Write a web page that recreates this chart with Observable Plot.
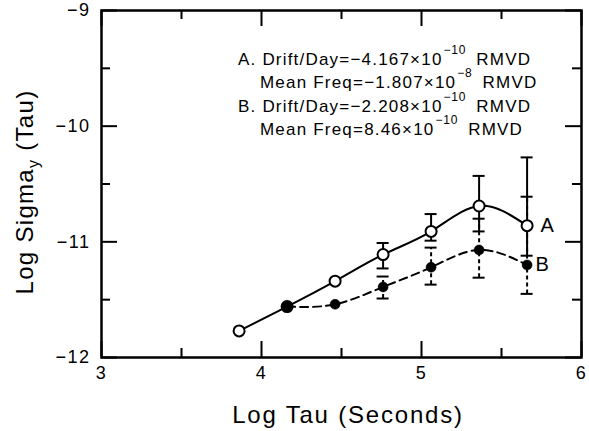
<!DOCTYPE html>
<html><head><meta charset="utf-8">
<script src="https://cdn.jsdelivr.net/npm/d3@7"></script>
<script src="https://cdn.jsdelivr.net/npm/@observablehq/plot@0.6"></script>
<style>
body{margin:0;background:#fff;}
#chart svg{display:block}
#chart svg [aria-label$="tick label"] text{letter-spacing:1.5px}
</style></head><body><div id="chart"></div>
<script>
// ---- data ----
const logTauA = [3.86, 4.16, 4.46, 4.76, 5.06, 5.36, 5.66];
const sigmaA  = [-11.77, -11.56, -11.34, -11.11, -10.91, -10.69, -10.86];
const logTauB = [4.16, 4.46, 4.76, 5.06, 5.36, 5.66];
const sigmaB  = [-11.56, -11.54, -11.39, -11.22, -11.07, -11.20];
const errTauA = [4.76, 5.06, 5.36, 5.66];
const errHiA  = [-11.01, -10.76, -10.43, -10.27];
const errLoA  = [-11.23, -10.99, -10.91, -11.12];
const errTauB = [4.76, 5.06, 5.36, 5.66];
const errHiB  = [-11.30, -11.05, -10.80, -10.61];
const errLoB  = [-11.49, -11.37, -11.31, -11.45];
const xMajor = [3, 4, 5, 6];
const xMinor = [3.5, 4.5, 5.5];
const yMajor = [-9, -10, -11, -12];
const yMinor = [-9.5, -10.5, -11.5];
const seriesNames = ["A", "B"];
const annotLabel    = ["A. Drift/Day", "Mean Freq", "B. Drift/Day", "Mean Freq"];
const annotMantissa = ["\u22124.167", "\u22121.807", "\u22122.208", "8.46"];
const annotExponent = ["\u221210", "\u22128", "\u221210", "\u221210"];
const annotUnit = "RMVD";
const xTitle = "Log Tau (Seconds)";
const yTitleMain = "Log Sigma", yTitleSub = "y", yTitleEnd = " (Tau)";

// ---- tables ----
const dataA = logTauA.map((t, i) => ({t, v: sigmaA[i]}));
const dataB = logTauB.map((t, i) => ({t, v: sigmaB[i]}));
const barsA = errTauA.map((t, i) => ({t, hi: errHiA[i], lo: errLoA[i]}));
const barsB = errTauB.map((t, i) => ({t, hi: errHiB[i], lo: errLoB[i]}));

const FONT = "'Liberation Sans', Arial, Helvetica, sans-serif";
const MAJ = 16, MIN = 9;
const intFmt = d3.format("d");

const tickMarks = (vals, len) => [
  Plot.ruleX(vals, {x: d => d, y1: -12, y2: -12, insetTop: -len, stroke: "black", strokeWidth: 2}),
  Plot.ruleX(vals, {x: d => d, y1: -9, y2: -9, insetBottom: -len, stroke: "black", strokeWidth: 2})
];
const tickMarksY = (vals, len) => [
  Plot.ruleY(vals, {y: d => d, x1: 3, x2: 3, insetRight: -len, stroke: "black", strokeWidth: 2}),
  Plot.ruleY(vals, {y: d => d, x1: 6, x2: 6, insetLeft: -len, stroke: "black", strokeWidth: 2})
];
const errorBars = (bars, dash) => [
  Plot.ruleX(bars, {x: "t", y1: "lo", y2: "hi", stroke: "black", strokeWidth: 2, strokeDasharray: dash}),
  Plot.ruleY(bars, {y: "hi", x1: "t", x2: "t", insetLeft: -6, insetRight: -6, stroke: "black", strokeWidth: 2}),
  Plot.ruleY(bars, {y: "lo", x1: "t", x2: "t", insetLeft: -6, insetRight: -6, stroke: "black", strokeWidth: 2})
];

const svg = Plot.plot({
  width: 589, height: 431,
  marginLeft: 101, marginRight: 8, marginTop: 10, marginBottom: 74,
  style: {fontFamily: FONT, background: "white", color: "black", overflow: "visible"},
  x: {domain: [3, 6]},
  y: {domain: [-12, -9]},
  marks: [
    Plot.axisX(xMajor, {tickSize: 0, tickPadding: 9, fontSize: 18, label: null, tickFormat: intFmt}),
    Plot.axisY(yMajor, {tickSize: 0, tickPadding: 11, fontSize: 18, label: null, tickFormat: intFmt}),
    ...tickMarks(xMajor, MAJ), ...tickMarks(xMinor, MIN),
    ...tickMarksY(yMajor, MAJ), ...tickMarksY(yMinor, MIN),
    Plot.frame({stroke: "black", strokeWidth: 2.5}),
    ...errorBars(barsB, "4,3"),
    ...errorBars(barsA, null),
    Plot.line(dataB, {x: "t", y: "v", curve: "natural", stroke: "black", strokeWidth: 2, strokeDasharray: "8,5"}),
    Plot.line(dataA, {x: "t", y: "v", curve: "natural", stroke: "black", strokeWidth: 2}),
    Plot.dot(dataA, {x: "t", y: "v", r: 5.5, fill: "white", stroke: "black", strokeWidth: 2}),
    Plot.dot(dataB, {x: "t", y: "v", r: 5, fill: "black", stroke: "black", strokeWidth: 0.5}),
    Plot.text([dataA[dataA.length - 1]], {x: "t", y: "v", text: () => seriesNames[0], dx: 20, fontSize: 20, fill: "black"}),
    Plot.text([dataB[dataB.length - 1]], {x: "t", y: "v", text: () => seriesNames[1], dx: 15, fontSize: 20, fill: "black"})
  ]
});

const s = d3.select(svg);
// annotation block
const annotX = [238, 260, 238, 260];
const annotY = [65, 88, 112, 135];
annotLabel.forEach((lab, i) => {
  const t = s.append("text")
    .attr("x", annotX[i]).attr("y", annotY[i])
    .attr("text-anchor", "start")
    .attr("font-family", FONT).attr("font-size", 17)
    .attr("letter-spacing", 1.2).attr("fill", "black");
  t.append("tspan").text(`${lab}=${annotMantissa[i]}\u00d710`);
  t.append("tspan").attr("font-size", 12).attr("dy", -11).attr("dx", 1).attr("letter-spacing", 0.8).text(annotExponent[i]);
  t.append("tspan").attr("dy", 11).attr("dx", 10).text(annotUnit);
});
// x title
s.append("text").attr("x", 348).attr("y", 423).attr("text-anchor", "middle")
  .attr("font-family", FONT).attr("font-size", 24).attr("letter-spacing", 1.8)
  .attr("fill", "black").text(xTitle);
// y title
const yt = s.append("text").attr("transform", "translate(33,192) rotate(-90)")
  .attr("text-anchor", "middle").attr("font-family", FONT).attr("font-size", 24)
  .attr("letter-spacing", 1.3).attr("fill", "black");
yt.append("tspan").text(yTitleMain);
yt.append("tspan").attr("font-size", 16).attr("dy", 6).text(yTitleSub);
yt.append("tspan").attr("dy", -6).text(yTitleEnd);

document.getElementById("chart").appendChild(svg);
</script></body></html>
